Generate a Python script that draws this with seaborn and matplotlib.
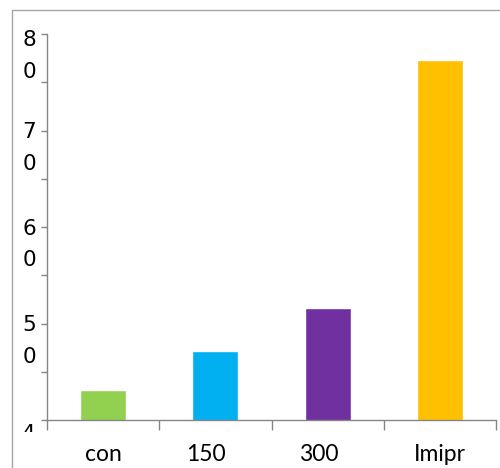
import matplotlib
matplotlib.use("Agg")
import matplotlib.pyplot as plt
from matplotlib.lines import Line2D
from matplotlib.transforms import Bbox, TransformedBbox, ScaledTranslation
from matplotlib.ticker import FixedLocator, FuncFormatter
import seaborn as sns
import pandas as pd

# Chart data
groups = ["con", "150", "300", "Imipr"]
values = [43.1, 47.15, 51.6, 77.3]
bar_colors = ["#92D050", "#00B0F0", "#7030A0", "#FFC000"]
y_major = [40, 50, 60, 70, 80]
y_minor = [45, 55, 65, 75]

sns.set_theme(style="white")
plt.rcParams["font.family"] = ["DejaVu Sans"]

axis_gray = "#868686"

df = pd.DataFrame({"group": groups, "value": values})

fig = plt.figure(figsize=(5.0, 4.68), dpi=100)
ax = fig.add_axes([47 / 500, 1 - 420 / 468, 449 / 500, 386 / 468])

sns.barplot(data=df, x="group", y="value", hue="group", palette=bar_colors,
            width=0.41, saturation=1, legend=False, ax=ax)

ax.set_xlim(-0.5, len(groups) - 0.5)
ax.set_ylim(y_major[0], y_major[-1])
ax.set_xlabel("")
ax.set_ylabel("")

# spines
for side in ("top", "right"):
    ax.spines[side].set_visible(False)
for side in ("left", "bottom"):
    ax.spines[side].set_color(axis_gray)
    ax.spines[side].set_linewidth(1.0)

# y axis: narrow label column, so each value wraps into stacked digits
ax.yaxis.set_major_locator(FixedLocator(y_major))
ax.yaxis.set_minor_locator(FixedLocator(y_minor))
ax.yaxis.set_major_formatter(FuncFormatter(lambda v, p: "\n".join(str(int(v)))))
ax.tick_params(axis="y", which="both", direction="out", length=4.3, width=1.0,
               color=axis_gray, left=True, pad=3.6)
ax.tick_params(axis="y", which="major", labelsize=15.5, labelcolor="black")

# vertical nudges (pixels, up positive) per label: 40 .. 80
y_nudge = [-4.4, 8.5, 8.5, 8.5, 3.6]
for lbl, dy in zip(ax.get_yticklabels(), y_nudge):
    lbl.set_va("top")
    lbl.set_linespacing(1.72)
    lbl.set_multialignment("center")
    lbl.set_transform(lbl.get_transform() + ScaledTranslation(0, dy / 100, fig.dpi_scale_trans))

# bottom label of the value axis is cut off at the plot edge
clip = TransformedBbox(Bbox.from_extents(0, 36 / 468, 1, 1), fig.transFigure)
first = ax.yaxis.get_major_ticks()[0].label1
first.set_clip_box(clip)
first.set_clip_on(True)

# x axis: category labels, separator ticks between categories
ax.set_xticks(range(len(groups)))
ax.set_xticklabels(groups, fontfamily="Lato", fontsize=16.5, color="black")
ax.set_xticks([i - 0.5 for i in range(len(groups) + 1)], minor=True)
ax.tick_params(axis="x", which="major", length=0, pad=17.5)
ax.tick_params(axis="x", which="minor", direction="out", length=7, width=1.0,
               color=axis_gray, bottom=True)
for i, lbl in enumerate(ax.get_xticklabels()):
    if i in (1, 2):
        lbl.set_transform(lbl.get_transform() + ScaledTranslation(-9 / 100, 0, fig.dpi_scale_trans))

ax.grid(False)

# chart area frame
frame_gray = "#a6a6a6"
fig.add_artist(Line2D([11.5 / 500, 11.5 / 500], [0, 1 - 10 / 468],
                      transform=fig.transFigure, color=frame_gray, lw=1.0))
fig.add_artist(Line2D([11.5 / 500, 1], [1 - 10 / 468, 1 - 10 / 468],
                      transform=fig.transFigure, color=frame_gray, lw=1.0))

fig.savefig("out.png", dpi=100)
